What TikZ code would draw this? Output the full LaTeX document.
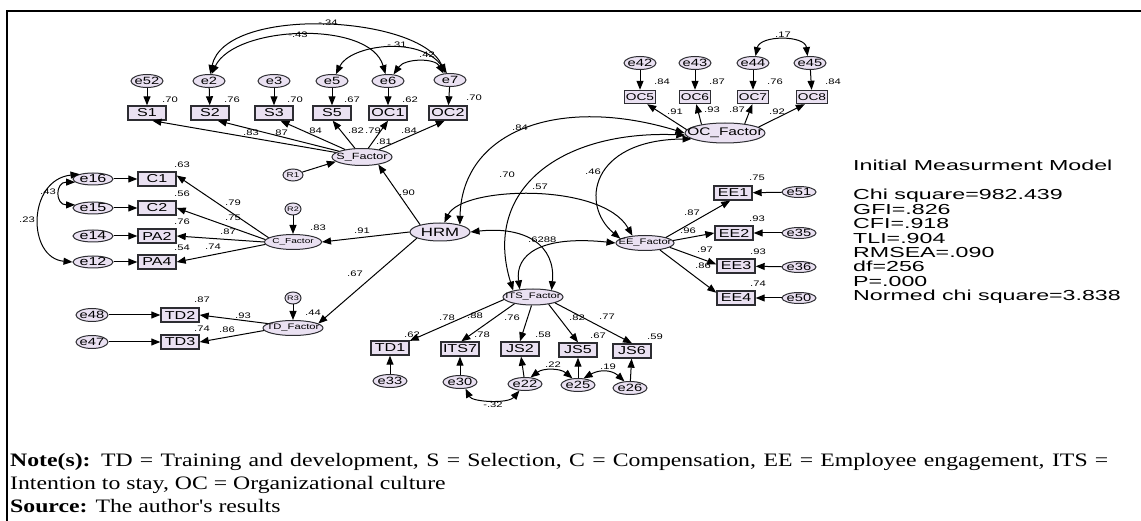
\documentclass[tikz,border=0pt]{standalone}
\usepackage{fontspec}
\setmainfont{Liberation Serif}
\newfontfamily\notefont{Liberation Serif}[FakeStretch=1.25]
\newfontfamily\dgfont{Liberation Sans}[FakeStretch=1.4]
\newfontfamily\stfont{Liberation Sans}[FakeStretch=1.6]
\usetikzlibrary{shapes.geometric,arrows.meta}
\definecolor{nodefill}{RGB}{234,225,242}
\definecolor{inkline}{RGB}{45,45,50}
\newcommand\fs[1]{\fontsize{#1}{#1}\selectfont}
\newcommand\zw[1]{\makebox[0pt]{#1}}
\tikzset{
  obs/.style={draw=inkline, fill=nodefill, rectangle, line width=1.4pt, inner sep=0pt,
    minimum width=38pt, minimum height=14pt, font=\dgfont\fs{11.5}},
  obssm/.style={obs, minimum width=31pt, minimum height=13pt, font=\dgfont\fs{9.8}},
  err/.style={draw=inkline, fill=nodefill, ellipse, line width=1pt, inner sep=0pt,
    minimum width=32pt, minimum height=13pt, font=\dgfont\fs{10.5}},
  lat/.style={draw=inkline, fill=nodefill, ellipse, line width=1pt, inner sep=0pt},
  num/.style={inner sep=0pt, font=\dgfont\fs{8}},
  stat/.style={inner sep=0pt, anchor=base west, font=\stfont\fs{14.5}},
  arr/.style={draw=black, line width=1pt, -{Triangle[length=9pt,width=7pt]}},
  cov/.style={draw=black, line width=1pt,
    {Triangle[length=9pt,width=7pt]}-{Triangle[length=9pt,width=7pt]}},
  note/.style={inner sep=0pt, anchor=base west, font=\notefont\fontsize{19}{23}\selectfont},
}
\begin{document}
\begin{tikzpicture}[x=1pt,y=-1pt]
\useasboundingbox (0,0) rectangle (1141,521);
\draw[line width=2.5pt] (1141,11) -- (7,11) -- (7,521);

% ---------- Selection block ----------
\node[err] (e52) at (147,81) {\zw{e52}};
\node[err] (e2)  at (209,81) {\zw{e2}};
\node[err] (e3)  at (274,81) {\zw{e3}};
\node[err] (e5)  at (332,81) {\zw{e5}};
\node[err] (e6)  at (388,81) {\zw{e6}};
\node[err] (e7)  at (450,80) {\zw{e7}};
\node[obs] (S1)  at (147,113) {S1};
\node[obs] (S2)  at (210,113) {S2};
\node[obs] (S3)  at (274,113) {S3};
\node[obs] (S5)  at (332,113) {S5};
\node[obs] (OC1) at (388,113) {OC1};
\node[obs] (OC2) at (448,113) {OC2};
\node[lat, minimum width=60pt, minimum height=17pt, font=\dgfont\fs{9}] (SF) at (362,157) {\zw{S\_Factor}};
\node[lat, minimum width=20pt, minimum height=12pt, font=\dgfont\fs{7}] (R1) at (293,175) {\zw{R1}};

\foreach \a/\b in {e52/S1,e2/S2,e3/S3,e5/S5,e6/OC1,e7/OC2} \draw[arr] (\a) -- (\b);
\draw[arr] (SF) -- (S1.-55);
\draw[arr] (SF) -- (S2.-45);
\draw[arr] (SF) -- (S3.-50);
\draw[arr] (SF) -- (S5.-85);
\draw[arr] (SF) -- (OC1.-90);
\draw[arr] (SF) -- (OC2.-113);
\draw[arr] (R1) -- (SF.190);

\draw[cov] (e2.80) .. controls (225,5) and (420,15) .. (e7.125);
\draw[cov] (e2.70) .. controls (235,25) and (370,20) .. (e6.110);
\draw[cov] (e5.60) .. controls (350,45) and (420,35) .. (e7.115);
\draw[cov] (e6.50) .. controls (405,58) and (435,58) .. (e7.135);

\node[num] (rs1) at (170,100) {.70};
\node[num] (rs2) at (232,100) {.76};
\node[num] (rs3) at (295,100) {.70};
\node[num] (rs5) at (352,100) {.67};
\node[num] (roc1) at (410,100) {.62};
\node[num] (roc2) at (474,98) {.70};
\node[num] (ls1) at (251,133) {.83};
\node[num] (ls3) at (280,133) {.87};
\node[num] (ls5) at (314,131) {.84};
\node[num] (ls6) at (356,131) {.82};
\node[num] (ls7) at (373,131) {.79};
\node[num] (ls8) at (384,142) {.81};
\node[num] (ls9) at (409,131) {.84};
\node[num] (cs1) at (328,23) {-.34};
\node[num] (cs2) at (298,35) {-.43};
\node[num] (cs3) at (397,45) {-.31};
\node[num] (cs4) at (427,55) {.42};

% ---------- Organizational culture block ----------
\node[err] (e42) at (640,63) {\zw{e42}};
\node[err] (e43) at (695,63) {\zw{e43}};
\node[err] (e44) at (753,63) {\zw{e44}};
\node[err] (e45) at (810,63) {\zw{e45}};
\node[obssm] (OC5) at (640,97) {OC5};
\node[obssm] (OC6) at (695,97) {OC6};
\node[obssm] (OC7) at (753,97) {OC7};
\node[obssm] (OC8) at (812,97) {OC8};
\node[lat, minimum width=80pt, minimum height=20pt, font=\dgfont\fs{11}] (OCF) at (725,133) {\zw{OC\_Factor}};

\foreach \a/\b in {e42/OC5,e43/OC6,e44/OC7,e45/OC8} \draw[arr] (\a) -- (\b);
\draw[arr] (OCF.175) -- (OC5.-45);
\draw[arr] (OCF.160) -- (OC6.-80);
\draw[arr] (OCF.25) -- (OC7.-95);
\draw[arr] (OCF.10) -- (OC8.-135);
\draw[cov] (e44.70) .. controls (760,35) and (805,35) .. (e45.110);

\node[num] (roc5) at (662,82) {.84};
\node[num] (roc6) at (717,82) {.87};
\node[num] (roc7) at (775,82) {.76};
\node[num] (roc8) at (833,82) {.84};
\node[num] (loc5) at (675,112) {.91};
\node[num] (loc6) at (712,110) {.93};
\node[num] (loc7) at (737,110) {.87};
\node[num] (loc8) at (777,112) {.92};
\node[num] (coc) at (783,35) {.17};

% ---------- Compensation block ----------
\node[err, minimum width=40pt, minimum height=12pt, font=\dgfont\fs{11.5}] (e16) at (93,179) {\zw{e16}};
\node[err, minimum width=40pt, minimum height=12pt, font=\dgfont\fs{11.5}] (e15) at (93,208) {\zw{e15}};
\node[err, minimum width=40pt, minimum height=12pt, font=\dgfont\fs{11.5}] (e14) at (93,236) {\zw{e14}};
\node[err, minimum width=40pt, minimum height=12pt, font=\dgfont\fs{11.5}] (e12) at (93,262) {\zw{e12}};
\node[obs] (C1)  at (157,179) {C1};
\node[obs] (C2)  at (157,208) {C2};
\node[obs] (PA2) at (157,236) {PA2};
\node[obs] (PA4) at (157,262) {PA4};
\node[lat, minimum width=57pt, minimum height=15pt, font=\dgfont\fs{7.2}] (CF) at (293,242) {\zw{C\_Factor}};
\node[lat, minimum width=16pt, minimum height=12pt, font=\dgfont\fs{6.5}] (R2) at (293,209) {\zw{R2}};

\foreach \a/\b in {e16/C1,e15/C2,e14/PA2,e12/PA4} \draw[arr] (\a) -- (\b);
\draw[arr] (CF.170) -- (C1.10);
\draw[arr] (CF.175) -- (C2.east);
\draw[arr] (CF.180) -- (PA2.east);
\draw[arr] (CF.185) -- (PA4.east);
\draw[arr] (R2) -- (CF);
\draw[cov] (e16.190) .. controls (55,182) and (55,205) .. (e15.170);
\draw[cov] (e16.160) .. controls (27,180) and (27,258) .. (e12.180);

\node[num] (rc1) at (182,165) {.63};
\node[num] (rc2) at (182,194) {.56};
\node[num] (rpa2) at (182,222) {.76};
\node[num] (rpa4) at (182,248) {.54};
\node[num] (lc1) at (233,203) {.79};
\node[num] (lc2) at (233,218) {.75};
\node[num] (lpa2) at (228,232) {.87};
\node[num] (lpa4) at (213,247) {.74};
\node[num] (cc1) at (48,192) {.43};
\node[num] (cc2) at (27,220) {.23};
\node[num] (rcf) at (318,228) {.83};

% ---------- Training and development block ----------
\node[lat, minimum width=60pt, minimum height=15pt, font=\dgfont\fs{8}] (TDF) at (293,328) {\zw{TD\_Factor}};
\node[lat, minimum width=16pt, minimum height=12pt, font=\dgfont\fs{6.5}] (R3) at (293,298) {\zw{R3}};
\node[obs] (TD2) at (180,315) {TD2};
\node[obs] (TD3) at (180,342) {TD3};
\node[err] (e48) at (92,315) {\zw{e48}};
\node[err] (e47) at (92,342) {\zw{e47}};
\draw[arr] (e48) -- (TD2);
\draw[arr] (e47) -- (TD3);
\draw[arr] (TDF.170) -- (TD2.east);
\draw[arr] (TDF.185) -- (TD3.east);
\draw[arr] (R3) -- (TDF);
\node[num] (rtd2) at (202,300) {.87};
\node[num] (ltd2) at (243,316) {.93};
\node[num] (rtd3) at (202,329) {.74};
\node[num] (ltd3) at (227,330) {.86};
\node[num] (rtdf) at (313,313) {.44};

% ---------- HRM ----------
\node[lat, minimum width=60pt, minimum height=18pt, font=\dgfont\fs{12}] (HRM) at (440,232) {\zw{HRM}};
\draw[arr] (HRM.160) -- (SF.-25);
\draw[arr] (HRM.west) -- (CF.east);
\draw[arr] (HRM.195) -- (TDF.10);
\node[num] (lsf) at (407,193) {.90};
\node[num] (lcf) at (362,231) {.91};
\node[num] (ltdf) at (355,274) {.67};

% ---------- Employee engagement block ----------
\node[lat, minimum width=58pt, minimum height=15pt, font=\dgfont\fs{8}] (EEF) at (645,243) {\zw{EE\_Factor}};
\node[obs] (EE1) at (733,193) {EE1};
\node[obs] (EE2) at (734,233) {EE2};
\node[obs] (EE3) at (736,266) {EE3};
\node[obs] (EE4) at (736,298) {EE4};
\node[err, minimum width=34pt, minimum height=11pt] (e51) at (799,192) {\zw{e51}};
\node[err, minimum width=34pt, minimum height=11pt] (e35) at (799,233) {\zw{e35}};
\node[err, minimum width=34pt, minimum height=11pt] (e36) at (799,267) {\zw{e36}};
\node[err, minimum width=34pt, minimum height=11pt] (e50) at (799,298) {\zw{e50}};
\foreach \a/\b in {e51/EE1,e35/EE2,e36/EE3,e50/EE4} \draw[arr] (\a) -- (\b);
\draw[arr] (EEF.15) -- (EE1.-110);
\draw[arr] (EEF.5) -- (EE2.west);
\draw[arr] (EEF.-10) -- (EE3.175);
\draw[arr] (EEF.-25) -- (EE4.165);
\node[num] (ree1) at (757,178) {.75};
\node[num] (ree2) at (757,219) {.93};
\node[num] (ree3) at (758,252) {.93};
\node[num] (ree4) at (758,284) {.74};
\node[num] (lee1) at (692,213) {.87};
\node[num] (lee2) at (688,231) {.96};
\node[num] (lee3) at (705,250) {.97};
\node[num] (lee4) at (703,266) {.86};

% ---------- Intention to stay block ----------
\node[lat, minimum width=60pt, minimum height=16pt, font=\dgfont\fs{8}] (ITSF) at (533,297) {\zw{ITS\_Factor}};
\node[obs] (TD1)  at (390,348) {TD1};
\node[obs] (ITS7) at (460,349) {ITS7};
\node[obs] (JS2)  at (520,349) {JS2};
\node[obs] (JS5)  at (578,350) {JS5};
\node[obs] (JS6)  at (632,351) {JS6};
\node[err, minimum width=34pt] (e33) at (390,381) {\zw{e33}};
\node[err, minimum width=34pt] (e30) at (460,382) {\zw{e30}};
\node[err, minimum width=34pt] (e22) at (525,384) {\zw{e22}};
\node[err, minimum width=34pt] (e25) at (578,385) {\zw{e25}};
\node[err, minimum width=34pt] (e26) at (630,388) {\zw{e26}};
\foreach \a/\b in {e33/TD1,e30/ITS7,e22/JS2,e25/JS5,e26/JS6} \draw[arr] (\a) -- (\b);
\draw[arr] (ITSF.185) -- (TD1.20);
\draw[arr] (ITSF.200) -- (ITS7.80);
\draw[arr] (ITSF.260) -- (JS2.north);
\draw[arr] (ITSF.-25) -- (JS5.north);
\draw[arr] (ITSF.-15) -- (JS6.north);
\draw[cov] (e30.-50) .. controls (472,402) and (508,404) .. (e22.-130);
\draw[cov] (e22.50) .. controls (543,368) and (560,368) .. (e25.130);
\draw[cov] (e25.50) .. controls (600,369) and (612,370) .. (e26.130);
\node[num] (rtd1) at (412,335) {.62};
\node[num] (ltd1) at (447,318) {.78};
\node[num] (lits7) at (475,316) {.88};
\node[num] (rits7) at (482,335) {.78};
\node[num] (ljs2) at (512,318) {.76};
\node[num] (rjs2) at (543,335) {.58};
\node[num] (ljs5) at (577,318) {.82};
\node[num] (ljs6) at (607,317) {.77};
\node[num] (rjs5) at (598,336) {.67};
\node[num] (rjs6) at (655,337) {.59};
\node[num] (cj1) at (553,365) {.22};
\node[num] (cj2) at (608,367) {.19};
\node[num] (cj3) at (493,405) {-.32};

% ---------- Factor covariances ----------
\draw[cov] (HRM.20) .. controls (462,130) and (560,95) .. (OCF.west);
\draw[cov] (OCF.183) .. controls (560,130) and (482,190) .. (ITSF.162);
\draw[cov] (OCF.190) .. controls (590,140) and (580,205) .. (EEF.170);
\draw[cov] (HRM.65) .. controls (462,186) and (602,182) .. (EEF.150);
\draw[cov] (HRM.east) .. controls (525,226) and (556,245) .. (ITSF.20);
\draw[cov] (EEF.west) .. controls (540,235) and (515,255) .. (ITSF.150);
\node[num] (fc1) at (520,128) {.84};
\node[num] (fc2) at (507,175) {.70};
\node[num] (fc3) at (593,172) {.46};
\node[num] (fc4) at (540,187) {.57};
\node[num, anchor=west] (fc5) at (528,240) {.62};
\node[num, anchor=west] (fc6) at (540.5,240) {.88};

% ---------- Fit statistics ----------
\node[stat] (title) at (853,171) {Initial Measurment Model};
\foreach \t [count=\i] in {Chi square=982.439, GFI=.826, CFI=.918, TLI=.904,
    RMSEA=.090, df=256, P=.000, Normed chi square=3.838}
  \node[stat] (st\i) at (853,{185.6+14.4*\i}) {\t};

% ---------- Caption ----------
\node[note] (note1) at (10,466) {\makebox[1098pt][s]{\textbf{Note(s):} TD = Training and development, S = Selection, C = Compensation, EE = Employee engagement, ITS =}};
\node[note] (note2) at (10,489) {Intention to stay, OC = Organizational culture};
\node[note] (note3) at (10,512) {\textbf{Source:} The author's results};
\end{tikzpicture}
\end{document}
